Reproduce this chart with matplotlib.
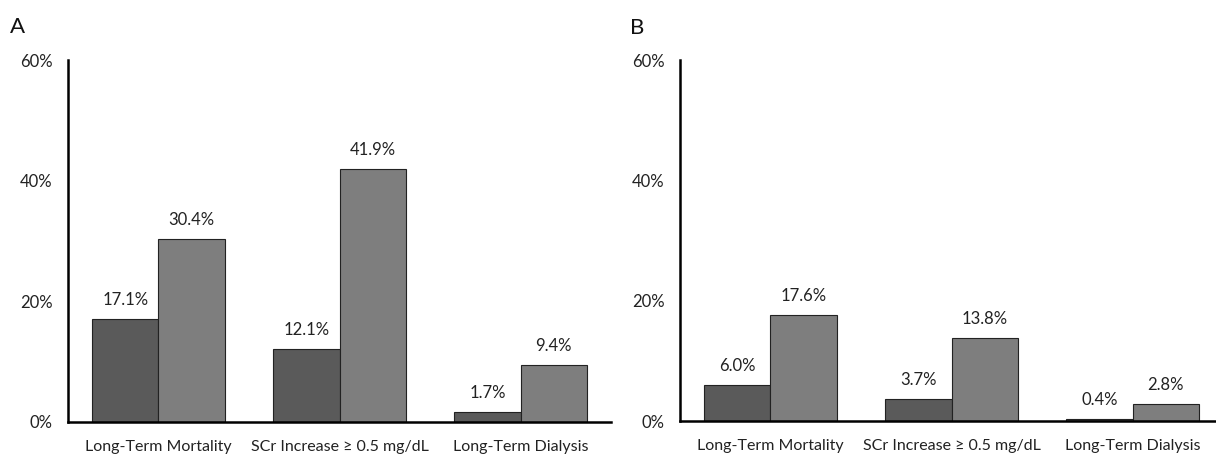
import numpy as np
import matplotlib
matplotlib.use("Agg")
import matplotlib.pyplot as plt

plt.rcParams['font.family'] = ['Lato', 'DejaVu Sans']

categories = ['Long-Term Mortality', 'SCr Increase ≥ 0.5 mg/dL', 'Long-Term Dialysis']
yticks = [0, 20, 40, 60]
ytick_labels = ['0%', '20%', '40%', '60%']

a_dark = [17.1, 12.1, 1.7]
a_light = [30.4, 41.9, 9.4]
b_dark = [6.0, 3.7, 0.4]
b_light = [17.6, 13.8, 2.8]

dark_color = '#5a5a5a'
light_color = '#7e7e7e'


def panel(ax, dark, light, letter, letter_x):
    x = np.arange(len(categories))
    w = 0.365
    bars1 = ax.bar(x - w / 2, dark, w, color=dark_color, edgecolor='#222222', linewidth=0.8)
    bars2 = ax.bar(x + w / 2, light, w, color=light_color, edgecolor='#222222', linewidth=0.8)
    for bars, vals in [(bars1, dark), (bars2, light)]:
        for bar, v in zip(bars, vals):
            ax.text(bar.get_x() + bar.get_width() / 2, v + 1.8, f'{v:.1f}%',
                    ha='center', va='bottom', fontsize=12, color='#222222')
    ax.set_xlim(-0.5, 2.5)
    ax.set_ylim(0, 60)
    ax.set_yticks(yticks)
    ax.set_yticklabels(ytick_labels, fontsize=12, color='#222222')
    ax.set_xticks(x)
    ax.set_xticklabels(categories, fontsize=11.5, color='#222222')
    ax.tick_params(axis='both', length=0)
    ax.tick_params(axis='y', pad=11)
    ax.tick_params(axis='x', pad=13)
    ax.spines['top'].set_visible(False)
    ax.spines['right'].set_visible(False)
    ax.spines['left'].set_linewidth(1.8)
    ax.spines['bottom'].set_linewidth(1.8)
    ax.text(letter_x, 1.09, letter, transform=ax.transAxes, fontsize=16,
            ha='left', va='center', color='#111111')


fig = plt.figure(figsize=(12.16, 4.63), dpi=100)
ax1 = fig.add_axes([0.0559, 0.0886, 0.4466, 0.7818])
ax2 = fig.add_axes([0.5592, 0.0907, 0.4466, 0.7797])

panel(ax1, a_dark, a_light, 'A', -0.107)
panel(ax2, b_dark, b_light, 'B', -0.092)

fig.savefig('out.png', dpi=100)
